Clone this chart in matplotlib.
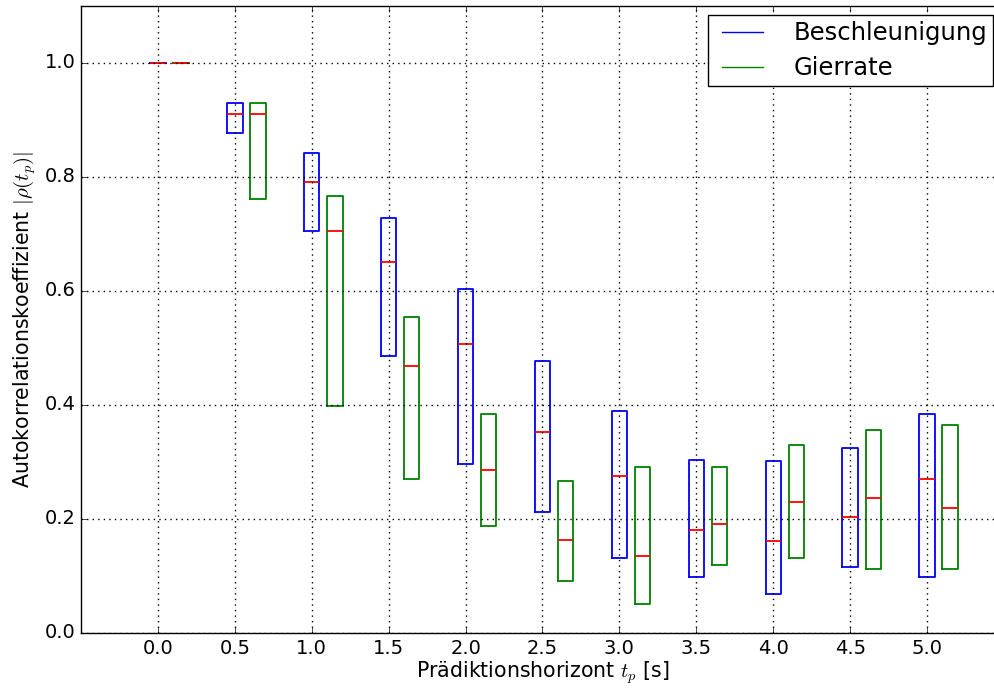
import matplotlib
matplotlib.use("Agg")
import matplotlib.pyplot as plt

plt.style.use("classic")
plt.rcParams["mathtext.fontset"] = "cm"
plt.rcParams["font.family"] = ["DejaVu Sans"]

horizons = [0.0, 0.5, 1.0, 1.5, 2.0, 2.5, 3.0, 3.5, 4.0, 4.5, 5.0]

acc_q1 = [1.0, 0.877, 0.705, 0.486, 0.296, 0.212, 0.132, 0.098, 0.068, 0.116, 0.098]
acc_med = [1.0, 0.911, 0.791, 0.651, 0.507, 0.353, 0.275, 0.181, 0.161, 0.204, 0.271]
acc_q3 = [1.0, 0.930, 0.842, 0.728, 0.604, 0.477, 0.389, 0.304, 0.301, 0.325, 0.385]

yaw_q1 = [1.0, 0.761, 0.398, 0.270, 0.188, 0.091, 0.051, 0.119, 0.132, 0.112, 0.113]
yaw_med = [1.0, 0.911, 0.705, 0.468, 0.286, 0.163, 0.135, 0.191, 0.230, 0.237, 0.220]
yaw_q3 = [1.0, 0.930, 0.767, 0.554, 0.384, 0.267, 0.291, 0.291, 0.329, 0.356, 0.365]

offset = 0.15
width = 0.1

W, H = 995, 691
fig = plt.figure(figsize=(W / 100, H / 100), dpi=100, facecolor="white")
ax = fig.add_axes([81 / W, 1 - 633 / H, 923 / W, 627 / H])
ax.set_facecolor("white")


def stats(q1, med, q3):
    return [dict(med=m, q1=a, q3=b, whislo=a, whishi=b, fliers=[])
            for a, m, b in zip(q1, med, q3)]


ax.bxp(stats(acc_q1, acc_med, acc_q3), positions=horizons, widths=width,
       showcaps=False, showfliers=False, manage_ticks=False,
       boxprops=dict(color="blue", linewidth=1.3),
       whiskerprops=dict(color="blue", linewidth=0),
       medianprops=dict(color="red", linewidth=1.3))
ax.bxp(stats(yaw_q1, yaw_med, yaw_q3), positions=[h + offset for h in horizons],
       widths=width, showcaps=False, showfliers=False, manage_ticks=False,
       boxprops=dict(color="green", linewidth=1.3),
       whiskerprops=dict(color="green", linewidth=0),
       medianprops=dict(color="red", linewidth=1.3))

ax.plot([], [], color="blue", label="Beschleunigung")
ax.plot([], [], color="green", label="Gierrate")

ax.set_xlim(-0.5, 5.5)
ax.set_ylim(0.0, 1.1)
ax.set_xticks(horizons)
ax.set_xticklabels([f"{h:.1f}" for h in horizons])
ax.set_yticks([0.0, 0.2, 0.4, 0.6, 0.8, 1.0])
ax.tick_params(labelsize=14)
ax.grid(True, color="black", linestyle=":", linewidth=1)
ax.set_axisbelow(False)

ax.set_xlabel(r"Prädiktionshorizont $t_p$ [s]", fontsize=14.8, labelpad=1)
ax.set_ylabel(r"Autokorrelationskoeffizient $|\rho(t_p)|$", fontsize=14.8)

leg = ax.legend(loc="upper right", fontsize=17.5, fancybox=False, borderaxespad=0,
                handlelength=2.3, handletextpad=0.94, borderpad=0.25,
                labelspacing=0.45,
                bbox_to_anchor=(993 / W, 1 - 15 / H), bbox_transform=fig.transFigure)
leg.get_frame().set_edgecolor("black")

fig.savefig("out.png", dpi=100, facecolor="white")
